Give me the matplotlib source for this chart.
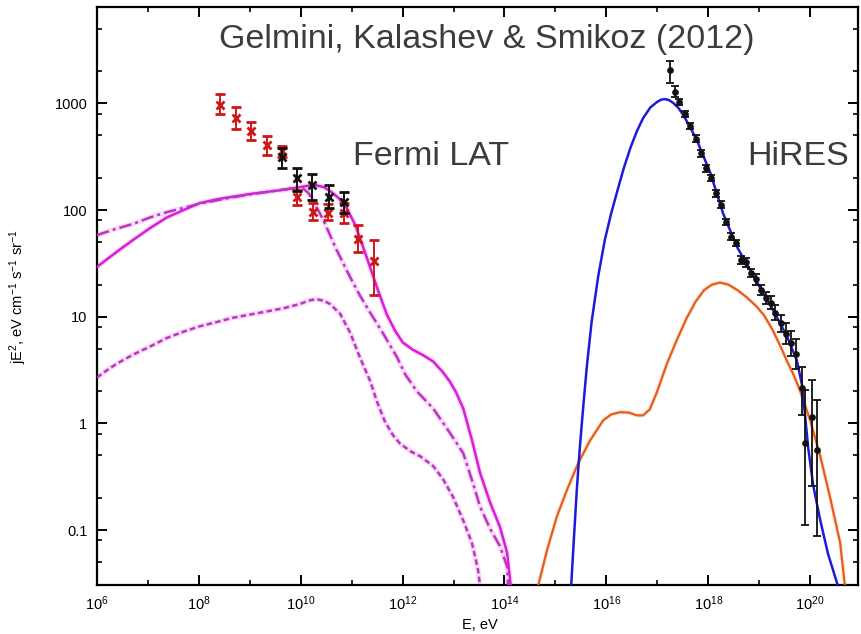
import numpy as np
import matplotlib
matplotlib.use("Agg")
import matplotlib.pyplot as plt
from matplotlib.ticker import FixedLocator, FixedFormatter, NullFormatter

plt.rcParams['font.family'] = ['Liberation Sans', 'DejaVu Sans']
plt.rcParams['mathtext.fontset'] = 'custom'
plt.rcParams['mathtext.rm'] = 'Liberation Sans'
plt.rcParams['mathtext.it'] = 'Liberation Sans:italic'

# Fermi LAT points: log10(E/eV), jE^2, lower, upper
fermi_red_logE = [8.42, 8.73, 9.02, 9.34, 9.63, 9.93, 10.24, 10.53, 10.84, 11.13, 11.43]
fermi_red_y = [960, 735, 550, 405, 358, 133, 96, 93, 93, 54, 33]
fermi_red_lo = [800, 580, 450, 330, 315, 111, 80, 80, 76, 40, 16]
fermi_red_hi = [1230, 920, 670, 490, 400, 154, 116, 114, 116, 72, 52]

fermi_blk_logE = [9.63, 9.93, 10.23, 10.55, 10.84]
fermi_blk_y = [315, 198, 171, 133, 120]
fermi_blk_lo = [250, 150, 123, 105, 93]
fermi_blk_hi = [380, 245, 218, 171, 148]

# HiRES points: log10(E/eV), log10(jE^2), log errors (down, up)
hires_logE = [17.25, 17.34, 17.43, 17.54, 17.64, 17.75, 17.85, 17.95, 18.05, 18.15,
              18.25, 18.34, 18.44, 18.54, 18.64, 18.74, 18.83, 18.93, 19.03, 19.13,
              19.23, 19.32, 19.43, 19.53, 19.63, 19.73, 19.84, 19.90, 20.03, 20.14]
hires_logY = [3.31, 3.11, 3.01, 2.90, 2.785, 2.67, 2.53, 2.39, 2.30, 2.155,
              2.05, 1.89, 1.75, 1.69, 1.53, 1.51, 1.41, 1.35, 1.25, 1.175,
              1.13, 1.035, 0.94, 0.84, 0.75, 0.65, 0.33, -0.18, 0.06, -0.25]
hires_err_dn = [0.12, 0.05, 0.03, 0.03, 0.03, 0.03, 0.03, 0.03, 0.03, 0.03,
                0.03, 0.03, 0.03, 0.03, 0.04, 0.04, 0.04, 0.05, 0.05, 0.06,
                0.06, 0.07, 0.08, 0.10, 0.12, 0.14, 0.25, 0.77, 0.65, 0.81]
hires_err_up = [0.09, 0.05, 0.03, 0.03, 0.03, 0.03, 0.03, 0.03, 0.03, 0.03,
                0.03, 0.03, 0.03, 0.03, 0.04, 0.04, 0.04, 0.05, 0.05, 0.06,
                0.06, 0.07, 0.08, 0.10, 0.12, 0.14, 0.20, 0.49, 0.35, 0.47]

# model curves, read as log10(E/eV), log10(jE^2)
solid_logE = [6.0, 6.2, 6.45, 6.71, 7.04, 7.37, 7.7, 8.02, 8.35, 8.67, 9.0, 9.34, 9.67, 9.99,
              10.15, 10.3, 10.45, 10.6, 10.75, 10.9, 11.07, 11.30, 11.50, 11.69, 11.85, 12.0,
              12.2, 12.40, 12.60, 12.79, 12.93, 13.05, 13.19, 13.36, 13.52, 13.72, 13.91,
              14.05, 14.11, 14.14]
solid_logY = [1.466, 1.54, 1.63, 1.72, 1.83, 1.93, 2.0, 2.065, 2.10, 2.125, 2.15, 2.17, 2.19, 2.215,
              2.228, 2.232, 2.215, 2.17, 2.11, 2.02, 1.86, 1.55, 1.27, 1.02, 0.87, 0.76,
              0.69, 0.64, 0.58, 0.48, 0.39, 0.29, 0.14, -0.155, -0.465, -0.745, -0.97,
              -1.21, -1.47, -1.6]

dashdot_logE = [6.0, 6.35, 6.71, 7.04, 7.37, 7.7, 8.02, 8.35, 8.67, 9.0, 9.34, 9.79, 9.95, 10.05,
                10.15, 10.24, 10.44, 10.7, 10.97, 11.16, 11.36, 11.62, 11.89, 12.05, 12.28, 12.6,
                12.93, 13.19, 13.36, 13.52, 13.72, 13.91, 14.05, 14.08]
dashdot_logY = [1.765, 1.82, 1.87, 1.93, 1.98, 2.02, 2.06, 2.09, 2.12, 2.145, 2.17, 2.20, 2.21, 2.2,
                2.16, 2.09, 1.91, 1.63, 1.37, 1.20, 1.04, 0.84, 0.62, 0.46, 0.30, 0.14,
                -0.09, -0.28, -0.53, -0.78, -0.99, -1.15, -1.34, -1.6]

dashed_logE = [6.0, 6.2, 6.39, 6.71, 7.04, 7.37, 7.7, 8.02, 8.35, 8.67, 9.0, 9.34, 9.67, 9.99,
               10.15, 10.3, 10.45, 10.57, 10.77, 10.97, 11.16, 11.36, 11.5, 11.65, 11.81, 11.95,
               12.15, 12.35, 12.6, 12.79, 12.99, 13.19, 13.36, 13.48, 13.54]
dashed_logY = [0.43, 0.50, 0.56, 0.645, 0.72, 0.80, 0.86, 0.91, 0.95, 0.99, 1.02, 1.05, 1.08, 1.12,
               1.15, 1.165, 1.15, 1.12, 1.03, 0.85, 0.62, 0.40, 0.20, 0.02, -0.11, -0.19,
               -0.26, -0.31, -0.40, -0.52, -0.69, -0.91, -1.12, -1.37, -1.6]

blue_logE = [15.30, 15.36, 15.42, 15.48, 15.55, 15.62, 15.71, 15.84, 15.97, 16.09, 16.21, 16.34,
             16.47, 16.6, 16.72, 16.86, 17.0, 17.08, 17.15, 17.23, 17.31, 17.41, 17.51, 17.64,
             17.78, 18.04, 18.29, 18.57, 18.82, 19.08, 19.30, 19.55, 19.74, 19.84, 19.90, 19.96,
             20.06, 20.20, 20.35, 20.55]
blue_logY = [-1.6, -1.1, -0.62, -0.22, 0.18, 0.55, 0.95, 1.38, 1.72, 1.96, 2.17, 2.39,
             2.58, 2.74, 2.86, 2.96, 3.015, 3.035, 3.04, 3.03, 3.005, 2.96, 2.89, 2.78,
             2.65, 2.35, 1.97, 1.65, 1.44, 1.22, 1.04, 0.81, 0.59, 0.36, 0.08, -0.22,
             -0.58, -0.91, -1.22, -1.53]

orange_logE = [14.62, 14.84, 15.03, 15.23, 15.45, 15.68, 15.94, 16.1, 16.27, 16.45, 16.6, 16.72,
               16.85, 16.99, 17.19, 17.39, 17.58, 17.75, 17.92, 18.07, 18.23, 18.4, 18.57,
               18.76, 18.96, 19.1, 19.27, 19.42, 19.55, 19.68, 19.80, 20.0, 20.2, 20.39,
               20.59, 20.70]
orange_logY = [-1.6, -1.18, -0.87, -0.62, -0.37, -0.16, 0.03, 0.085, 0.105, 0.10, 0.075, 0.075,
               0.13, 0.29, 0.56, 0.79, 0.99, 1.14, 1.25, 1.30, 1.32, 1.30, 1.25,
               1.18, 1.09, 1.01, 0.87, 0.72, 0.58, 0.45, 0.31, 0.03, -0.31, -0.69,
               -1.12, -1.6]

xtick_exp = [6, 8, 10, 12, 14, 16, 18, 20]
ytick_vals = [0.1, 1, 10, 100, 1000]
ytick_labels = ['0.1', '1', '10', '100', '1000']

W, H = 861, 634
fig = plt.figure(figsize=(W / 100, H / 100), dpi=100)
ax = fig.add_axes([97 / W, 1 - 585 / H, 761 / W, 578 / H])

mag = '#d61fd6'
halo = '#fadcfa'
e = lambda l: 10 ** np.array(l)

for xs, ys, ls in [(solid_logE, solid_logY, '-'),
                   (dashdot_logE, dashdot_logY, (0, (5, 1.6, 1.2, 1.6))),
                   (dashed_logE, dashed_logY, (0, (2.2, 1.3)))]:
    ax.plot(e(xs), e(ys), color=halo, lw=3.8, solid_capstyle='round', solid_joinstyle='round', zorder=2)
    ax.plot(e(xs), e(ys), color=mag if ls == '-' else '#b936c0', lw=1.8, ls=ls,
            solid_joinstyle='round', zorder=3)

ax.plot(e(orange_logE), e(orange_logY), color='#fcf1cc', lw=3.2, solid_joinstyle='round', zorder=2)
ax.plot(e(orange_logE), e(orange_logY), color='#e8582a', lw=1.6, solid_joinstyle='round', zorder=3)
ax.plot(e(blue_logE), e(blue_logY), color='#1c1cd8', lw=1.8, solid_joinstyle='round', zorder=4)

ax.errorbar(e(fermi_red_logE), fermi_red_y,
            yerr=[np.array(fermi_red_y) - np.array(fermi_red_lo),
                  np.array(fermi_red_hi) - np.array(fermi_red_y)],
            fmt='x', color='#cc1818', ms=6, mew=2, elinewidth=1.4, capsize=3.5, capthick=1.4, zorder=5)
ax.errorbar(e(fermi_blk_logE), fermi_blk_y,
            yerr=[np.array(fermi_blk_y) - np.array(fermi_blk_lo),
                  np.array(fermi_blk_hi) - np.array(fermi_blk_y)],
            fmt='x', color='#111111', ms=6, mew=2, elinewidth=1.4, capsize=3.5, capthick=1.4, zorder=6)

hy = np.array(hires_logY)
ax.errorbar(e(hires_logE), e(hy),
            yerr=[e(hy) - e(hy - np.array(hires_err_dn)), e(hy + np.array(hires_err_up)) - e(hy)],
            fmt='o', color='#111111', ms=3.8, elinewidth=1.3, capsize=3, capthick=1.3, zorder=6)

ax.set_xscale('log')
ax.set_yscale('log')
ax.set_xlim(1e6, 10 ** 20.94)
ax.set_ylim(10 ** -1.515, 10 ** 3.903)

ax.xaxis.set_major_locator(FixedLocator([10.0 ** k for k in xtick_exp]))
ax.xaxis.set_major_formatter(FixedFormatter([r'$10^{%d}$' % k for k in xtick_exp]))
ax.xaxis.set_minor_locator(FixedLocator([10.0 ** (k + 1) for k in xtick_exp]))
ax.xaxis.set_minor_formatter(NullFormatter())
ax.yaxis.set_major_locator(FixedLocator(ytick_vals))
ax.yaxis.set_major_formatter(FixedFormatter(ytick_labels))
ax.yaxis.set_minor_locator(FixedLocator([m * 10.0 ** k for k in range(-2, 4) for m in (2, 5, 8)]))
ax.yaxis.set_minor_formatter(NullFormatter())

ax.tick_params(which='both', direction='in', top=True, right=True, labelsize=10.5)
ax.tick_params(which='major', length=7, width=1.4, pad=7)
ax.tick_params(which='minor', length=3.5, width=1.2)
for s in ax.spines.values():
    s.set_linewidth(1.6)

fig.text(18 / W, 1 - 297 / H, r'jE$^2$, eV cm$^{-1}$ s$^{-1}$ sr$^{-1}$',
         rotation=90, ha='center', va='center', fontsize=10.5)
fig.text(480 / W, 1 - 625 / H, 'E, eV', ha='center', va='center', fontsize=10.5)

gray = '#3c3c3c'
fig.text(487 / W, 1 - 48 / H, 'Gelmini, Kalashev & Smikoz (2012)', ha='center',
         va='baseline', fontsize=24.5, color=gray)
fig.text(353 / W, 1 - 165 / H, 'Fermi LAT', ha='left', va='baseline', fontsize=24.5, color=gray)
fig.text(747 / W, 1 - 165 / H, 'HiRES', ha='left', va='baseline', fontsize=24.5, color=gray)

fig.savefig('out.png', dpi=100)
